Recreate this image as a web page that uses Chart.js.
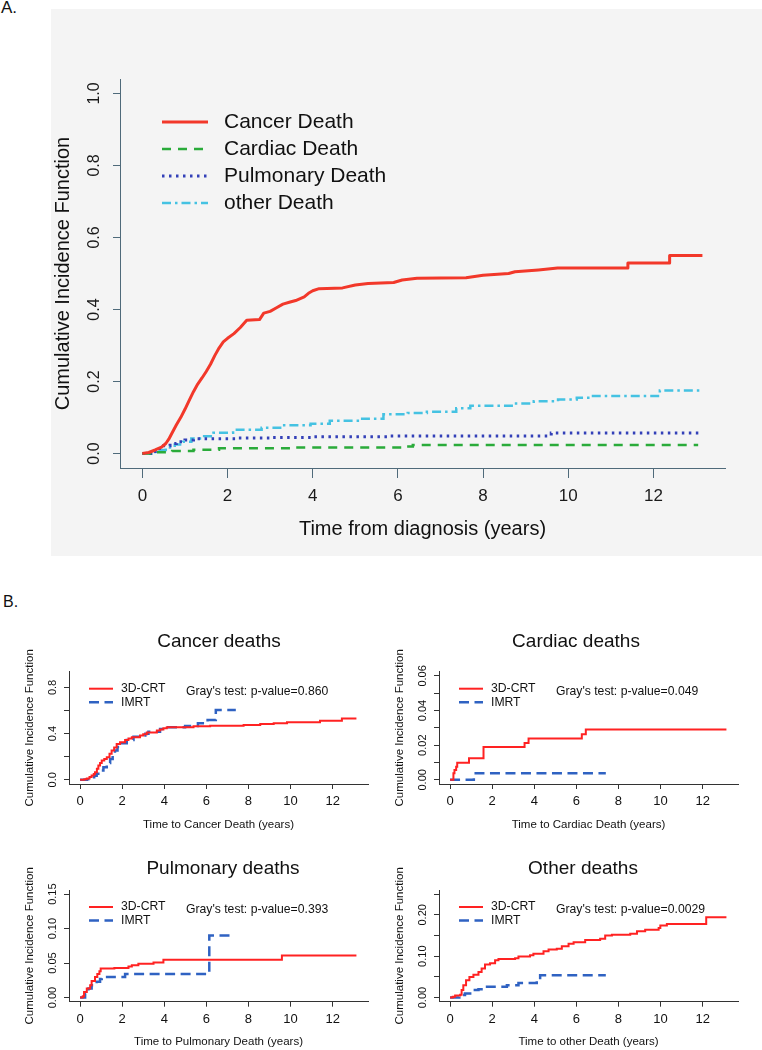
<!DOCTYPE html>
<html><head><meta charset="utf-8">
<script src="https://cdn.jsdelivr.net/npm/chart.js@4"></script>
<style>
html,body{margin:0;padding:0;background:#fff;width:762px;height:1050px;overflow:hidden;font-family:"Liberation Sans",Arial,sans-serif;}
canvas{position:absolute;}
.lab{position:absolute;font-size:17px;color:#111;}
</style></head>
<body>
<div class="lab" style="left:1px;top:-2px;">A.</div>
<div class="lab" style="left:3px;top:593px;font-size:16px;">B.</div>
<canvas id="cA" width="711" height="547" style="left:51px;top:9px;background:#f4f4f4;"></canvas>
<canvas id="cB1" width="380" height="215" style="left:0px;top:620px;"></canvas>
<canvas id="cB2" width="380" height="215" style="left:370px;top:620px;"></canvas>
<canvas id="cB3" width="380" height="212" style="left:0px;top:838px;"></canvas>
<canvas id="cB4" width="380" height="212" style="left:370px;top:838px;"></canvas>
<script>
// ---------- DATA ----------
const xTicks = [0, 2, 4, 6, 8, 10, 12];
const xTickLabels = ['0', '2', '4', '6', '8', '10', '12'];

// Panel A
const aYTicks = [0, 0.2, 0.4, 0.6, 0.8, 1.0];
const aYTickLabels = ['0.0', '0.2', '0.4', '0.6', '0.8', '1.0'];
const aSeriesNames = ['Cancer Death', 'Cardiac Death', 'Pulmonary Death', 'other Death'];
// cancer curve: vertices of the drawn path (steep part is a dense staircase in the original)
const cancerT = [0,0.15,0.3,0.45,0.55,0.62,0.7,0.8,0.9,1.0,1.1,1.2,1.3,1.4,1.5,1.6,1.7,1.8,1.9,2.0,2.15,2.3,2.45,2.75,2.85,3.0,3.15,3.3,3.45,3.6,3.8,3.9,4.0,4.15,4.7,5.0,5.3,5.9,6.1,6.45,7.6,8.0,8.6,8.75,9.3,9.75,11.4,11.4,12.38,12.38,13.15];
const cancerV = [0,0.003,0.01,0.018,0.028,0.04,0.058,0.08,0.1,0.123,0.148,0.172,0.193,0.21,0.228,0.248,0.272,0.293,0.31,0.32,0.333,0.35,0.37,0.372,0.39,0.395,0.405,0.415,0.42,0.425,0.435,0.445,0.452,0.458,0.46,0.468,0.472,0.475,0.482,0.487,0.488,0.495,0.5,0.505,0.51,0.515,0.515,0.529,0.529,0.55,0.55];
const cardiacT = [0,0.3,0.7,1.2,1.8,3.5,6.2,6.35,13.05];
const cardiacV = [0,0.004,0.007,0.011,0.015,0.017,0.02,0.024,0.024];
const pulmT = [0,0.2,0.35,0.5,0.65,0.8,1.0,1.2,2.2,3.0,4.0,5.8,9.6,13.15];
const pulmV = [0,0.006,0.014,0.022,0.028,0.033,0.038,0.041,0.043,0.045,0.047,0.049,0.057,0.057];
const otherT = [0,0.3,0.55,0.76,0.95,1.15,1.45,1.67,2.13,2.8,3.27,3.95,4.4,5.1,5.66,6.23,6.68,7.37,7.7,8.73,9.19,9.76,10.2,10.5,12.15,13.15];
const otherV = [0,0.01,0.017,0.025,0.033,0.042,0.048,0.058,0.066,0.072,0.079,0.083,0.091,0.097,0.109,0.113,0.116,0.126,0.133,0.139,0.145,0.15,0.155,0.16,0.175,0.175];

// Panel B
const groupNames = ['3D-CRT', 'IMRT'];
const bTitles = ['Cancer deaths', 'Cardiac deaths', 'Pulmonary deaths', 'Other deaths'];
const bXTitles = ['Time to Cancer Death (years)', 'Time to Cardiac Death (years)', 'Time to Pulmonary Death (years)', 'Time to other Death (years)'];
const bPValues = ["Gray's test: p-value=0.860", "Gray's test: p-value=0.049", "Gray's test: p-value=0.393", "Gray's test: p-value=0.0029"];

const b1YTicks = [0, 0.2, 0.4, 0.6, 0.8];
const b1YTickLabels = ['0.0', '', '0.4', '', '0.8'];
const b1CrtT = [0,0.2,0.32,0.45,0.55,0.65,0.71,0.8,0.87,0.95,1.03,1.15,1.27,1.4,1.5,1.62,1.74,1.9,2.14,2.3,2.46,2.85,3.0,3.17,3.65,3.8,3.96,4.12,5.39,6.18,7.77,8.56,9.2,9.83,11.4,12.44,13.13];
const b1CrtV = [0,0.006,0.012,0.025,0.037,0.05,0.066,0.095,0.124,0.145,0.167,0.18,0.196,0.225,0.253,0.28,0.31,0.325,0.345,0.358,0.368,0.383,0.395,0.41,0.426,0.435,0.446,0.455,0.463,0.469,0.475,0.483,0.49,0.498,0.512,0.532,0.532];
const b1ImrtT = [0,0.32,0.45,0.55,0.67,0.79,0.95,1.11,1.27,1.43,1.55,1.66,1.78,1.9,2.22,2.54,2.93,3.1,3.25,3.8,4.04,4.99,5.6,6.06,6.45,7.4];
const b1ImrtV = [0,0.005,0.012,0.023,0.035,0.052,0.08,0.109,0.145,0.181,0.215,0.253,0.285,0.317,0.345,0.374,0.383,0.4,0.417,0.44,0.455,0.466,0.489,0.518,0.604,0.604];

const b2YTicks = [0, 0.01, 0.02, 0.03, 0.04, 0.05, 0.06];
const b2YTickLabels = ['0.00', '', '0.02', '', '0.04', '', '0.06'];
const b2CrtT = [0,0.16,0.21,0.29,0.34,0.9,1.59,3.54,3.73,6.26,6.45,13.13];
const b2CrtV = [0,0.0038,0.0057,0.0076,0.0099,0.0124,0.019,0.0213,0.0238,0.0263,0.0291,0.0291];
const b2ImrtT = [0,1.13,7.4];
const b2ImrtV = [0,0.0038,0.0038];

const b3YTicks = [0, 0.05, 0.10, 0.15];
const b3YTickLabels = ['0.00', '0.05', '0.10', '0.15'];
const b3CrtT = [0,0.13,0.19,0.32,0.48,0.55,0.71,0.82,0.92,0.98,1.63,2.3,2.46,2.77,3.49,3.96,9.59,13.13];
const b3CrtV = [0,0.002,0.008,0.013,0.018,0.024,0.03,0.034,0.038,0.042,0.043,0.045,0.047,0.049,0.051,0.055,0.061,0.061];
const b3ImrtT = [0,0.24,0.4,0.55,0.79,0.95,1.03,2.14,6.14,7.17];
const b3ImrtV = [0,0.006,0.013,0.018,0.023,0.027,0.03,0.034,0.09,0.09];

const b4YTicks = [0, 0.05, 0.10, 0.15, 0.20, 0.25];
const b4YTickLabels = ['0.00', '', '0.10', '', '0.20', ''];
const b4CrtT = [0,0.13,0.24,0.48,0.55,0.63,0.76,0.92,1.11,1.35,1.5,1.66,1.9,2.14,2.3,3.09,3.25,3.8,3.96,4.44,4.68,5.07,5.31,5.63,5.87,6.42,7.13,7.37,7.69,8.56,8.88,9.27,9.91,9.99,10.3,12.17,13.13];
const b4CrtV = [0,0.002,0.005,0.007,0.018,0.03,0.042,0.05,0.055,0.062,0.07,0.08,0.083,0.09,0.093,0.095,0.099,0.102,0.106,0.112,0.116,0.118,0.124,0.13,0.134,0.139,0.142,0.15,0.152,0.154,0.16,0.164,0.168,0.174,0.178,0.194,0.194];
const b4ImrtT = [0,0.44,0.71,1.03,1.35,1.66,2.7,3.25,4.12,4.28,7.4];
const b4ImrtV = [0,0.006,0.01,0.018,0.02,0.026,0.03,0.035,0.042,0.054,0.054];

// ---------- HELPERS ----------
const FAM = '"Liberation Sans", Arial, Helvetica, sans-serif';
const mctx = document.createElement('canvas').getContext('2d');
function textW(size, s) { mctx.font = size + 'px ' + FAM; return mctx.measureText(s).width; }
function widest(size, arr) { return Math.max(...arr.map(s => textW(size, s))); }
function pts(t, v) { return t.map((x, i) => ({x: x, y: v[i]})); }

function annotPlugin(cfg) {
  return {
    id: 'annot',
    afterDraw(chart) {
      const ctx = chart.ctx;
      ctx.save();
      (cfg.texts || []).forEach(t => {
        ctx.font = t.size + 'px ' + FAM;
        ctx.fillStyle = t.color || '#111';
        ctx.textAlign = t.align || 'left';
        ctx.textBaseline = t.baseline || 'middle';
        ctx.fillText(t.text, t.x, t.y);
      });
      (cfg.legend || []).forEach(l => {
        const ds = chart.data.datasets[l.index];
        ctx.strokeStyle = ds.borderColor;
        ctx.lineWidth = ds.borderWidth;
        ctx.setLineDash(ds.borderDash || []);
        ctx.lineCap = ds.borderCapStyle || 'butt';
        ctx.beginPath(); ctx.moveTo(l.x1, l.y); ctx.lineTo(l.x2, l.y); ctx.stroke();
        ctx.setLineDash([]);
        ctx.font = l.size + 'px ' + FAM;
        ctx.fillStyle = '#111';
        ctx.textAlign = 'left';
        ctx.textBaseline = 'middle';
        ctx.fillText(ds.label, l.tx, l.y + (l.dy || 0));
      });
      ctx.restore();
    }
  };
}

function makeChart(id, g) {
  const yPad = g.yLabOff - g.yTl - widest(g.yTickSize, g.yLabels) / 2;
  return new Chart(document.getElementById(id), {
    type: 'line',
    data: {datasets: g.datasets},
    plugins: [annotPlugin(g.annot)],
    options: {
      responsive: false, animation: false, devicePixelRatio: 1,
      layout: {padding: {left: 0, top: g.areaTop, right: g.padRight, bottom: 0}},
      plugins: {legend: {display: false}, tooltip: {enabled: false}, title: {display: false}},
      elements: {point: {radius: 0}, line: {tension: 0}},
      scales: {
        x: {
          type: 'linear', min: -0.525, max: 13.68,
          afterBuildTicks: s => { s.ticks = xTicks.map(v => ({value: v})); },
          afterFit: s => { s.height = g.xAxisH; },
          ticks: {autoSkip: false, maxRotation: 0, minRotation: 0, padding: g.xPad, color: g.tickColor,
                  font: {family: FAM, size: g.xTickSize},
                  callback: (v, i) => xTickLabels[i]},
          grid: {display: true, drawOnChartArea: false, drawTicks: true, tickLength: g.xTl, color: g.axisColor, lineWidth: 1},
          border: {display: true, color: g.axisColor, width: 1},
          title: {display: true, text: g.xTitle, color: '#111', font: {family: FAM, size: g.xTitleSize},
                  padding: {top: 0, bottom: g.xTitlePad}}
        },
        y: {
          type: 'linear', min: g.yMin, max: g.yMax,
          afterBuildTicks: s => { s.ticks = g.yTicks.map(v => ({value: v})); },
          afterFit: s => { s.width = g.yAxisW; },
          ticks: {autoSkip: false, minRotation: 90, maxRotation: 90, crossAlign: 'center', padding: yPad,
                  color: g.tickColor, font: {family: FAM, size: g.yTickSize},
                  callback: (v, i) => g.yLabels[i]},
          grid: {display: true, drawOnChartArea: false, drawTicks: true, tickLength: g.yTl, color: g.axisColor, lineWidth: 1},
          border: {display: true, color: g.axisColor, width: 1},
          title: {display: true, text: 'Cumulative Incidence Function', color: '#111', font: {family: FAM, size: g.yTitleSize},
                  padding: {top: g.yTitlePad, bottom: 0}}
        }
      }
    }
  });
}

// ---------- PANEL A ----------
const aColors = ['#f2382a', '#2aab3a', '#3340b8', '#45c2e2'];
makeChart('cA', {
  areaTop: 70, padRight: 37, yAxisW: 69, xAxisH: 88,
  yMin: -0.04, yMax: 1.04, yTicks: aYTicks, yLabels: aYTickLabels,
  xTickSize: 17, yTickSize: 16, xTl: 10, yTl: 7, xPad: 8, yLabOff: 25,
  tickColor: '#1a1a1a', axisColor: '#4f6a7a',
  xTitle: 'Time from diagnosis (years)', xTitleSize: 20, xTitlePad: 15,
  yTitleSize: 20, yTitlePad: 0,
  datasets: [
    {label: aSeriesNames[0], data: pts(cancerT, cancerV), stepped: false, borderColor: aColors[0], borderWidth: 3, borderJoinStyle: 'round'},
    {label: aSeriesNames[1], data: pts(cardiacT, cardiacV), stepped: true, borderColor: aColors[1], borderWidth: 2.5, borderDash: [9, 7]},
    {label: aSeriesNames[2], data: pts(pulmT, pulmV), stepped: true, borderColor: aColors[2], borderWidth: 3, borderDash: [2.5, 4.5]},
    {label: aSeriesNames[3], data: pts(otherT, otherV), stepped: true, borderColor: aColors[3], borderWidth: 2.5, borderDash: [9, 4, 2.5, 4]}
  ],
  annot: {
    legend: [
      {index: 0, x1: 111, x2: 157, tx: 173, y: 113, size: 21},
      {index: 1, x1: 111, x2: 157, tx: 173, y: 140, size: 21},
      {index: 2, x1: 111, x2: 157, tx: 173, y: 167, size: 21},
      {index: 3, x1: 111, x2: 157, tx: 173, y: 194, size: 21}
    ]
  }
});

// ---------- PANEL B ----------
const crtColor = '#ff2222';
const imrtColor = '#2f62c2';
function bPanel(id, k, top, H, yMin, yMax, yTicks, yLabels, crtT, crtV, imT, imV, titleX, titleY) {
  const areaTop = top;
  makeChart(id, {
    areaTop: areaTop, padRight: 12, yAxisW: 69, xAxisH: (k < 2 ? 51 : 48.3),
    yMin: yMin, yMax: yMax, yTicks: yTicks, yLabels: yLabels,
    xTickSize: 13, yTickSize: 11, xTl: 5, yTl: 5, xPad: 5, yLabOff: 16.5,
    tickColor: '#111', axisColor: '#333',
    xTitle: bXTitles[k], xTitleSize: 11.5, xTitlePad: (k < 2 ? 3 : 1.4),
    yTitleSize: 11.5, yTitlePad: 22.6,
    datasets: [
      {label: groupNames[0], data: pts(crtT, crtV), stepped: true, borderColor: crtColor, borderWidth: 2},
      {label: groupNames[1], data: pts(imT, imV), stepped: true, borderColor: imrtColor, borderWidth: 2.5, borderDash: [10, 5.5]}
    ],
    annot: {
      texts: [
        {text: bTitles[k], x: titleX, y: titleY, size: 19, align: 'center', baseline: 'alphabetic'},
        {text: bPValues[k], x: 186, y: areaTop + 19.5, size: 12.2}
      ],
      legend: [
        {index: 0, x1: 89, x2: 113, tx: 121, y: areaTop + 17, size: 12.2},
        {index: 1, x1: 89, x2: 113, tx: 121, y: areaTop + 30.5, size: 12.2}
      ]
    }
  });
}
bPanel('cB1', 0, 51.7, 215, -0.036, 0.936, b1YTicks, b1YTickLabels, b1CrtT, b1CrtV, b1ImrtT, b1ImrtV, 219, 26.6);
bPanel('cB2', 1, 51.7, 215, -0.0024, 0.0624, b2YTicks, b2YTickLabels, b2CrtT, b2CrtV, b2ImrtT, b2ImrtV, 206, 26.6);
bPanel('cB3', 2, 52, 212, -0.006, 0.156, b3YTicks, b3YTickLabels, b3CrtT, b3CrtV, b3ImrtT, b3ImrtV, 223, 36);
bPanel('cB4', 3, 52, 212, -0.01, 0.26, b4YTicks, b4YTickLabels, b4CrtT, b4CrtV, b4ImrtT, b4ImrtV, 213, 36);
</script>
</body></html>
